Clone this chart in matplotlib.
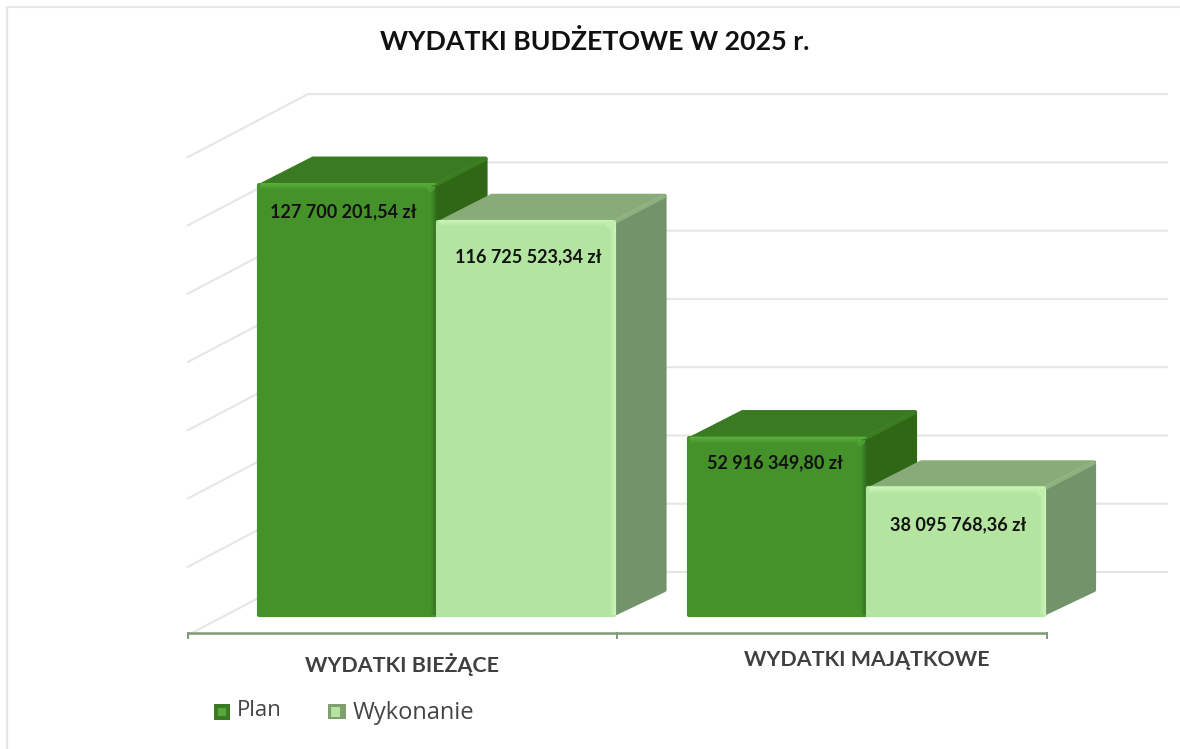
import matplotlib
matplotlib.use("Agg")
import matplotlib.pyplot as plt
from matplotlib.colors import to_rgb
import numpy as np

categories = ["WYDATKI BIEŻĄCE", "WYDATKI MAJĄTKOWE"]
plan = [127700201.54, 52916349.80]
wykonanie = [116725523.34, 38095768.36]
plan_labels = ["127 700 201,54 zł", "52 916 349,80 zł"]
wykonanie_labels = ["116 725 523,34 zł", "38 095 768,36 zł"]
grid_levels = [0, 20e6, 40e6, 60e6, 80e6, 100e6, 120e6, 140e6]

W, H = 1180, 749
PX_PER_ZL = 3.39 / 1e6       # front plane of the bars
PX_PER_CAT = 429.5
X0_PX, Y0_PX = 188, 616

plt.rcParams['font.family'] = ['Lato', 'Open Sans', 'DejaVu Sans']

fig = plt.figure(figsize=(W / 100, H / 100), dpi=100, facecolor='white')
ax = fig.add_axes([0, 0, 1, 1])
ax.set_xlim(-X0_PX / PX_PER_CAT, (W - X0_PX) / PX_PER_CAT)
ax.set_ylim((Y0_PX - H) / PX_PER_ZL, Y0_PX / PX_PER_ZL)
ax.axis('off')


def dx(px):
    return px / PX_PER_CAT


def dy(px):
    return px / PX_PER_ZL


def px_x(px):
    return (px - X0_PX) / PX_PER_CAT


def px_y(px):
    return (Y0_PX - px) / PX_PER_ZL


def mix(c1, c2, t):
    return tuple((1 - t) * a + t * b for a, b in zip(to_rgb(c1), to_rgb(c2)))


# faint frame of the pasted picture, top and left
ax.plot([px_x(7), px_x(7), px_x(W)], [px_y(H), px_y(7), px_y(7)], color='#e6e6e6', lw=1.6, zorder=0)

# back wall, side wall and floor grid
wall_x0, wall_x1 = dx(120), dx(979)
wall_y0 = dy(44)
wall_scale = 1.007
wall_depth = dy(63)
for level in grid_levels:
    y = wall_y0 + level * wall_scale
    ax.plot([0, wall_x0, wall_x1], [y - wall_depth, y, y], color='#e6e6e6', lw=1.5, zorder=1)

# category axis
axis_y = px_y(633)
ax.plot([0, 2], [axis_y, axis_y], color='#7f9a78', lw=1.8, zorder=2, solid_capstyle='butt')
for t in [0, 1, 2]:
    ax.plot([t, t], [axis_y, axis_y - dy(5)], color='#7f9a78', lw=1.4, zorder=2)

bar_w = dx(179)
depth_x, depth_y = dx(50), dy(26)
plan_x = np.arange(2) + dx(70)
wyk_x = plan_x + bar_w


def draw_bars(xs, values, front, top, side, bevel, edge, z):
    ax.bar(xs + dx(1.5), np.array(values) - dy(3), bar_w - dx(3), bottom=dy(1.5), align='edge',
           color=front, edgecolor=front, lw=3, joinstyle='round', zorder=z + 1)
    for x, v in zip(xs, values):
        r = x + bar_w
        ax.fill([x + dx(3), x + depth_x + dx(5), r + depth_x - dx(1.5), r],
                [v - dy(2), v + depth_y - dy(1.5), v + depth_y - dy(1.5), v - dy(2)],
                color=top, lw=3, joinstyle='round', zorder=z)
        ax.fill([r, r + depth_x - dx(1.5), r + depth_x - dx(1.5), r],
                [dy(3), depth_y, v + depth_y - dy(2), v - dy(2)],
                color=side, lw=3, joinstyle='round', zorder=z)
        # soft bevel along the top and right edge of the front face
        steps = 6
        for i in range(steps):
            t = 1 - i / steps
            ax.fill([x + dx(2), r - dx(2), r - dx(2), x + dx(2)],
                    [v - dy(i), v - dy(i), v - dy(i + 1), v - dy(i + 1)],
                    color=mix(front, bevel, t), lw=0, zorder=z + 2)
            ax.fill([r - dx(i + 1), r - dx(i), r - dx(i), r - dx(i + 1)],
                    [dy(1), dy(1), v - dy(2), v - dy(2)],
                    color=mix(front, edge, t), lw=0, zorder=z + 2)
        # highlight on the edge going back and the corner spot
        ax.plot([r, r + depth_x - dx(2)], [v - dy(1), v + depth_y - dy(2)], color=bevel, lw=3,
                alpha=0.3, solid_capstyle='round', zorder=z + 1)
        ax.plot([r - dx(7)], [v - dy(5)], 'o', ms=5, color=bevel, mew=0, alpha=0.5, zorder=z + 3)


draw_bars(plan_x, plan, '#45922b', '#3a7a22', '#2f6714', '#58ad3c', '#2f6d1c', 3)
draw_bars(wyk_x, wykonanie, '#b3e5a1', '#89ab78', '#73946a', '#c8f4b6', '#c8f4b6', 7)

# value labels, each at its own drop below the bar top
plan_cx = [px_x(343), px_x(775)]
wyk_cx = [px_x(528), px_x(958)]
plan_drop = [29, 26]
wyk_drop = [36, 38]
for cx, v, d, s in zip(plan_cx, plan, plan_drop, plan_labels):
    ax.text(cx, v - dy(d), s, ha='center', va='center', fontsize=13, fontweight='bold',
            color='#111111', zorder=12)
for cx, v, d, s in zip(wyk_cx, wykonanie, wyk_drop, wykonanie_labels):
    ax.text(cx, v - dy(d), s, ha='center', va='center', fontsize=13, fontweight='bold',
            color='#111111', zorder=12)

# title and category names
ax.text(px_x(595), px_y(42), "WYDATKI BUDŻETOWE W 2025 r.", ha='center', va='center',
        fontsize=19.3, fontweight='bold', color='#111111')
cat_cx = [px_x(402), px_x(867)]
cat_cy = [px_y(664), px_y(660)]
for cx, cy, s in zip(cat_cx, cat_cy, categories):
    ax.text(cx, cy, s, ha='center', va='center', fontsize=15.4, fontweight='bold', color='#404040')

# legend
ax.fill([px_x(214), px_x(230), px_x(230), px_x(214)], [px_y(704), px_y(704), px_y(720), px_y(720)],
        color='#3a7a22', lw=0)
ax.fill([px_x(218), px_x(226), px_x(226), px_x(218)], [px_y(708), px_y(708), px_y(716), px_y(716)],
        color='#58a83a', lw=0)
ax.fill([px_x(328), px_x(346), px_x(346), px_x(328)], [px_y(704), px_y(704), px_y(719), px_y(719)],
        color='#7f9f70', lw=0)
ax.fill([px_x(331), px_x(340), px_x(340), px_x(331)], [px_y(707), px_y(707), px_y(717), px_y(717)],
        color='#b3e5a1', lw=0)
ax.text(px_x(237), px_y(710), "Plan", ha='left', va='center', fontsize=16, color='#444444',
        family=['Open Sans', 'DejaVu Sans'])
ax.text(px_x(353), px_y(713), "Wykonanie", ha='left', va='center', fontsize=17, color='#444444',
        family=['Open Sans', 'DejaVu Sans'])

fig.savefig("out.png", dpi=100)
